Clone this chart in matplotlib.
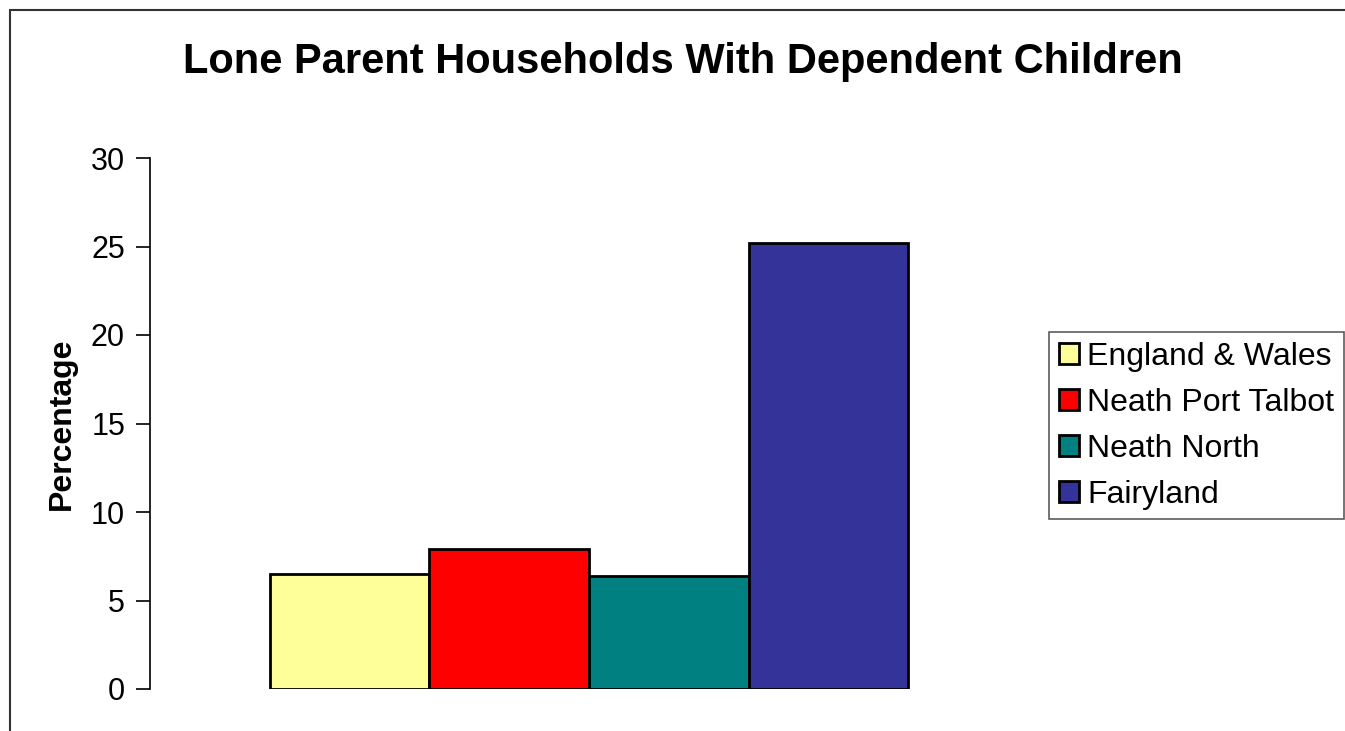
import matplotlib
matplotlib.use('Agg')
import matplotlib.pyplot as plt
from matplotlib.patches import Rectangle, Patch

plt.rcParams['font.family'] = ['Liberation Sans', 'DejaVu Sans']

areas = ['England & Wales', 'Neath Port Talbot', 'Neath North', 'Fairyland']
values = [6.5, 7.9, 6.4, 25.2]
colours = ['#FFFF99', '#FF0000', '#008080', '#333399']
y_ticks = [0, 5, 10, 15, 20, 25, 30]

W, H = 1345, 731
fig = plt.figure(figsize=(W / 100, H / 100), dpi=100)

# plot area in pixels
left, right, top, bottom = 150, 1028, 158, 689
ax = fig.add_axes([left / W, (H - bottom) / H, (right - left) / W, (bottom - top) / H])

for i in range(len(areas)):
    ax.bar(i, values[i], width=1.0, color=colours[i], edgecolor='black', linewidth=2, label=areas[i])

ax.set_xlim(-1.25, 4.25)
ax.set_ylim(0, 30)
ax.set_yticks(y_ticks)
ax.set_xticks([])
ax.tick_params(axis='y', direction='out', length=10, width=1.2, labelsize=22, pad=8)
for s in ['top', 'right', 'bottom']:
    ax.spines[s].set_visible(False)
ax.spines['left'].set_linewidth(1.2)
ax.set_ylabel('Percentage', fontsize=23, fontweight='bold', labelpad=10)

fig.text(683 / W, 1 - 62 / H, 'Lone Parent Households With Dependent Children',
         ha='center', va='center', fontsize=30, fontweight='bold')

# outer chart border (cut off at right and bottom)
fig.patches.append(Rectangle((10 / W, -0.05), 1.1, 1 - 10 / H + 0.05, transform=fig.transFigure,
                             fill=False, edgecolor='#333333', linewidth=1.5))

handles = [Patch(facecolor=c, edgecolor='black', linewidth=2) for c in colours]
leg = fig.legend(handles, areas, loc='upper left', bbox_to_anchor=(1049 / W, 1 - 332 / H),
                 fontsize=23, frameon=True, fancybox=False, handlelength=0.65, handleheight=0.65,
                 handletextpad=0.25, borderpad=0.3, labelspacing=0.5, borderaxespad=0)
leg.get_frame().set_edgecolor('#333333')
leg.get_frame().set_linewidth(1.2)

fig.savefig('out.png', dpi=100)
